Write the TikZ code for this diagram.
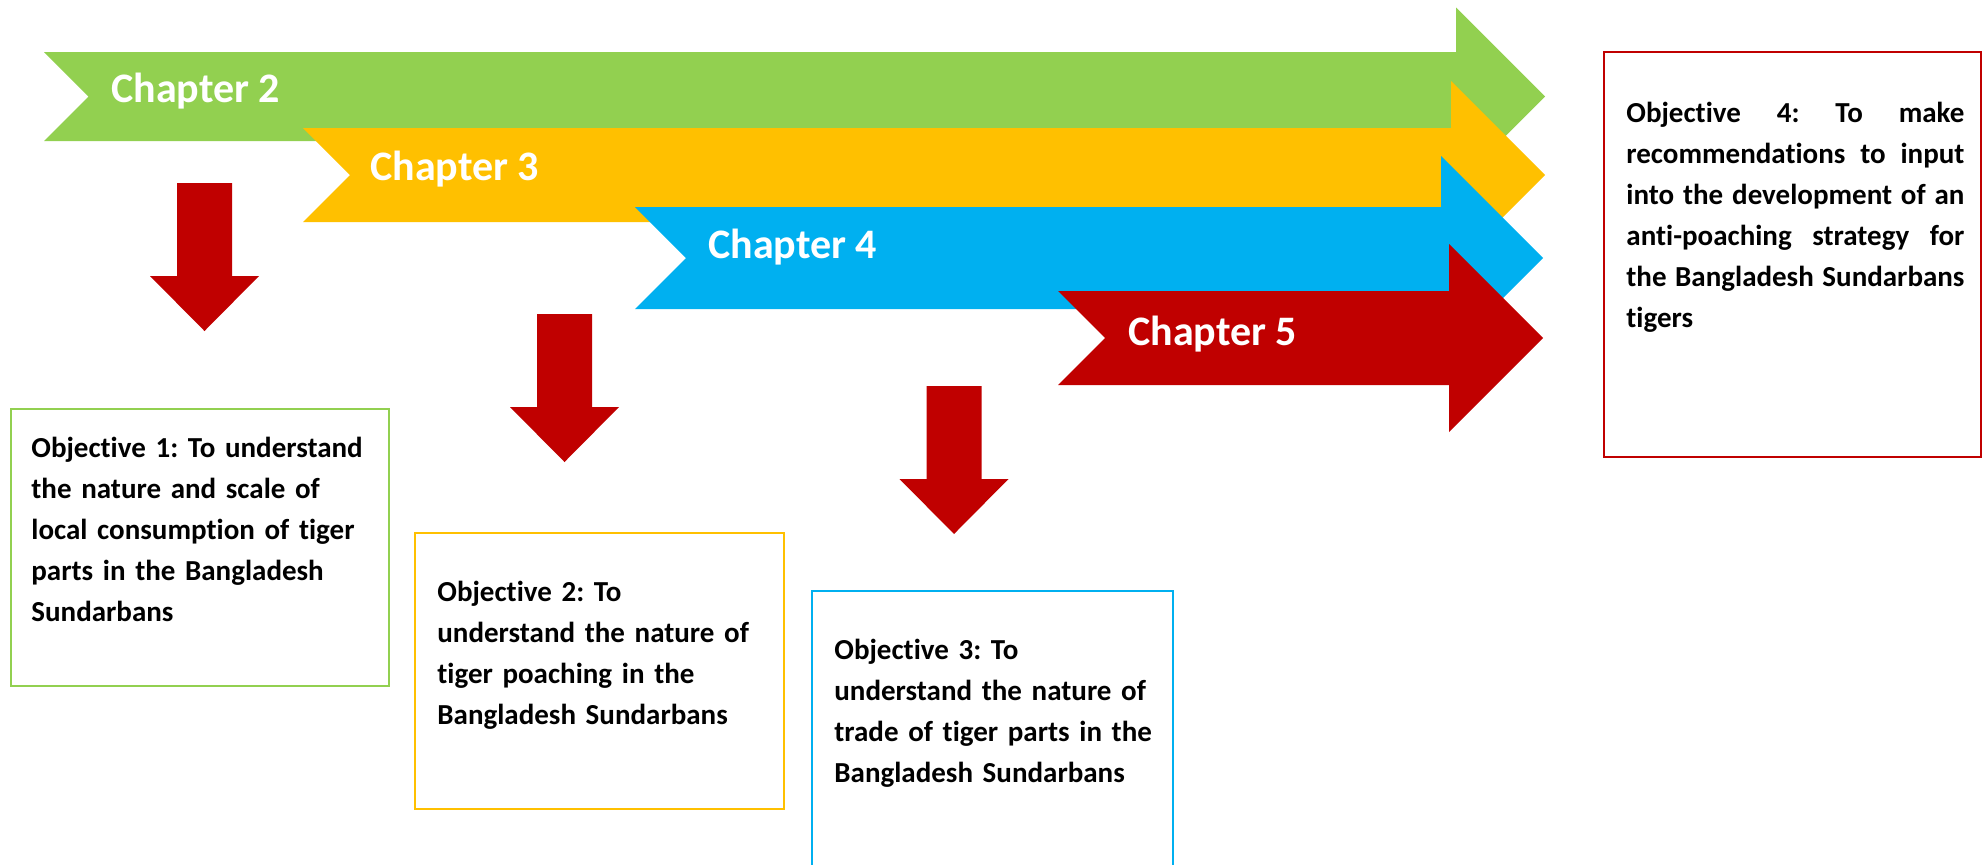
\documentclass[tikz,border=0pt]{standalone}
\usepackage{fontspec}
\setmainfont{Carlito}[Ligatures=NoCommon]
\frenchspacing
\usetikzlibrary{fit}
\definecolor{chgreen}{HTML}{92D050}
\definecolor{chyellow}{HTML}{FFC000}
\definecolor{chblue}{HTML}{00B0F0}
\definecolor{chred}{HTML}{C00000}
\tikzset{
  px/.style={x=0.5pt, y=-0.5pt},
  chlabel/.style={text=white, font=\fontsize{21}{25}\selectfont\bfseries, inner sep=0pt, anchor=base west},
  objframe/.style={draw=#1, line width=1pt, inner sep=0pt},
  objtext/.style={font=\fontsize{14.5}{20.5}\selectfont\bfseries, inner sep=0pt, anchor=base west, text width=#1},
  % block arrow pointing down, origin at the top of the shaft
  downarrow/.pic={
    \fill[chred] (-27.5,0) -- (27.5,0) -- (27.5,93) -- (54.5,93) -- (0,148)
      -- (-54.5,93) -- (-27.5,93) -- cycle;
  },
}
% chapter band: colour, left end, middle, half height, tip
\newcommand\chapterband[5]{
  \fill[#1] (#2,#3-#4) -- (#5-2*#4,#3-#4) -- (#5-2*#4,#3-2*#4) -- (#5,#3)
    -- (#5-2*#4,#3+2*#4) -- (#5-2*#4,#3+#4) -- (#2,#3+#4) -- (#2+#4,#3) -- cycle;
}

\begin{document}
\begin{tikzpicture}[px]
  \path[use as bounding box, clip] (0,0) rectangle (1984,864);
  % chapters, each one on top of the one before
  \chapterband{chgreen}{44}{96.5}{44.5}{1545}
  \chapterband{chyellow}{303}{175}{47}{1545}
  \chapterband{chblue}{635}{258}{51}{1543}
  \chapterband{chred}{1058}{338}{47}{1543}
  \node[chlabel] (ch2) at (111,102) {Chapter 2};
  \node[chlabel] (ch3) at (370,180) {Chapter 3};
  \node[chlabel] (ch4) at (708,258) {Chapter 4};
  \node[chlabel] (ch5) at (1128,345) {Chapter 5};
  % arrows down to the objectives
  \pic at (204.5,183) {downarrow};
  \pic at (564.5,314) {downarrow};
  \pic at (954,386) {downarrow};
  % objective boxes (box 3 runs off the bottom)
  \node[objframe=chgreen, fit={(11,409) (389,686)}] (obj1) {};
  \node[objframe=chyellow, fit={(415,533) (784,809)}] (obj2) {};
  \node[objframe=chblue, fit={(812,591) (1173,900)}] (obj3) {};
  \node[objframe=chred, fit={(1604,52) (1981,457)}] (obj4) {};
  \node[objtext=180pt, align=left] (obj1text) at ([shift={(21,49)}]obj1.north west)
    {Objective 1: To understand\\the nature and scale of\\local consumption of tiger\\parts in the Bangladesh\\Sundarbans};
  \node[objtext=170pt, align=left] (obj2text) at ([shift={(23,69)}]obj2.north west)
    {Objective 2: To\\understand the nature of\\tiger poaching in the\\Bangladesh Sundarbans};
  \node[objtext=170pt, align=left] (obj3text) at ([shift={(23,69)}]obj3.north west)
    {Objective 3: To\\understand the nature of\\trade of tiger parts in the\\Bangladesh Sundarbans};
  \node[objtext=169pt, align=justify] (obj4text) at ([shift={(23,71)}]obj4.north west)
    {Objective 4: To make\linebreak recommendations to input\linebreak into the development of an\linebreak anti-poaching strategy for\linebreak the Bangladesh Sundarbans\linebreak tigers};
\end{tikzpicture}
\end{document}
